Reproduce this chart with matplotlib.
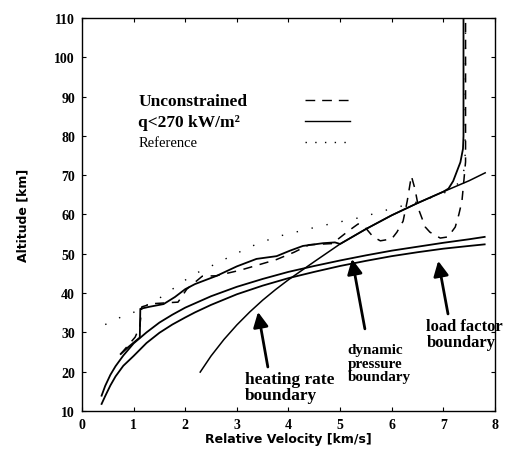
import matplotlib
matplotlib.use("Agg")
import matplotlib.pyplot as plt

# ---- data ----
# boundaries
dyn_v = [0.38, 0.45, 0.55, 0.65, 0.8, 1.0, 1.25, 1.5, 1.75, 2.0, 2.5, 3.0, 3.5, 4.0,
         4.5, 5.0, 5.5, 6.0, 6.5, 7.0, 7.5, 7.8]
dyn_h = [13.9, 16.4, 19.2, 21.4, 24.1, 27.2, 30.0, 32.5, 34.5, 36.3, 39.2, 41.6, 43.6, 45.4,
         46.9, 48.3, 49.6, 50.8, 51.8, 52.8, 53.7, 54.3]

load_v = [0.38, 0.45, 0.55, 0.65, 0.8, 1.0, 1.25, 1.5, 1.75, 2.0, 2.19, 2.5, 3.0, 3.5,
          4.0, 4.5, 5.0, 5.5, 6.0, 6.5, 7.0, 7.5, 7.8]
load_h = [11.8, 13.8, 16.5, 18.8, 21.5, 24.0, 27.3, 29.9, 32.0, 33.8, 35.1, 37.0, 39.7, 41.9,
          43.8, 45.4, 46.9, 48.2, 49.4, 50.4, 51.3, 52.0, 52.4]

heat_v = [2.29, 2.5, 2.75, 3.0, 3.25, 3.5, 3.75, 4.0, 4.5, 5.0, 5.5, 6.0, 6.5, 7.0, 7.5, 7.81]
heat_h = [19.9, 24.0, 28.2, 31.9, 35.2, 38.2, 40.9, 43.4, 48.0, 52.5, 56.3, 59.8, 62.9, 65.8, 68.6, 70.6]

# trajectories
q_v = [0.75, 0.9, 1.12, 1.13, 1.3, 1.58, 1.8, 2.0, 2.19, 2.61, 3.0, 3.38, 3.77,
       4.03, 4.28, 4.67, 4.9, 5.0, 5.5, 6.0, 6.5, 7.0, 7.1, 7.19, 7.33, 7.38, 7.39, 7.39]
q_h = [24.5, 26.3, 28.7, 36.0, 36.5, 37.2, 39.0, 41.0, 42.3, 44.4, 46.8, 48.7, 49.4,
       50.8, 52.0, 52.7, 52.9, 52.5, 56.3, 59.8, 62.9, 65.8, 66.6, 68.5, 73.3, 76.7, 80.0, 110.0]

unc_v = [0.75, 1.03, 1.12, 1.16, 1.36, 1.86, 2.03, 2.33, 2.6, 3.06, 3.76, 4.11, 4.4,
         4.85, 5.16, 5.35, 5.48, 5.64, 5.78, 6.0, 6.1, 6.22, 6.3, 6.38, 6.45, 6.53,
         6.65, 6.74, 6.94, 7.09, 7.23, 7.3, 7.36, 7.4, 7.43, 7.43]
unc_h = [24.5, 28.8, 31.5, 36.5, 37.3, 37.7, 41.0, 44.3, 44.4, 45.8, 48.5, 50.4, 52.3,
         52.6, 55.8, 57.6, 56.8, 54.3, 53.3, 53.8, 55.5, 58.3, 63.4, 69.8, 66.5, 61.0,
         56.8, 55.5, 54.0, 54.3, 56.8, 60.0, 63.4, 69.0, 73.4, 110.0]

ref_v = [0.45, 0.6, 0.8, 1.0, 1.5, 1.84, 2.0, 2.15, 2.34, 2.67, 2.85, 3.3, 3.76,
         4.6, 5.45, 5.83, 6.5, 7.0, 7.3, 7.42, 7.43]
ref_h = [32.0, 32.9, 34.2, 35.1, 38.7, 41.8, 43.3, 44.6, 45.9, 47.9, 49.2, 52.0, 54.3,
         57.0, 59.4, 60.9, 63.2, 65.3, 68.0, 72.0, 110.0]

x_ticks = [0, 1, 2, 3, 4, 5, 6, 7, 8]
y_ticks = [10, 20, 30, 40, 50, 60, 70, 80, 90, 100, 110]

# ---- figure ----
fig = plt.figure(figsize=(5.07, 4.52), dpi=100)
ax = fig.add_axes([0.1617, 0.0885, 0.8146, 0.8695])

lw = 1.3
ax.plot(dyn_v, dyn_h, color="black", lw=lw)
ax.plot(load_v, load_h, color="black", lw=lw)
ax.plot(heat_v, heat_h, color="black", lw=1.1)
ax.plot(q_v, q_h, color="black", lw=lw)
ax.plot(unc_v, unc_h, color="black", lw=1.1, linestyle=(0, (6, 5)))
ax.plot(ref_v, ref_h, color="black", lw=1.0, linestyle=(0, (1, 10)))

ax.set_xlim(0, 8)
ax.set_ylim(10, 110)
ax.set_xticks(x_ticks)
ax.set_yticks(y_ticks)
ax.tick_params(direction="in", top=True, right=True, length=3, width=0.8,
               labelsize=10, pad=5)
for lab in ax.get_xticklabels() + ax.get_yticklabels():
    lab.set_fontfamily("Liberation Serif")
    lab.set_fontweight("bold")
for s in ax.spines.values():
    s.set_linewidth(1.0)

ax.set_xlabel("Relative Velocity [km/s]", family=["Liberation Sans Narrow", "DejaVu Sans"],
              fontweight="bold", fontsize=9, labelpad=1)
ax.set_ylabel("Altitude [km]", family=["Liberation Sans Narrow", "DejaVu Sans"],
              fontweight="bold", fontsize=9, labelpad=18)

# legend-like labels
serif = "Liberation Serif"
ax.text(1.09, 88.9, "Unconstrained", family=serif, fontweight="bold", fontsize=12.5, va="center")
ax.text(1.09, 83.5, "q<270 kW/m²", family=serif, fontweight="bold", fontsize=12.5, va="center")
ax.text(1.09, 78.4, "Reference", family=serif, fontsize=10.5, va="center")
ax.plot([0.54, 0.65], [0.791, 0.791], transform=ax.transAxes, color="black", lw=1.0,
        linestyle=(0, (7, 5)))
ax.plot([0.54, 0.65], [0.738, 0.738], transform=ax.transAxes, color="black", lw=1.0)
ax.plot([0.54, 0.64], [0.684, 0.684], transform=ax.transAxes, color="black", lw=1.0,
        linestyle=(0, (1, 6)))

# annotations
arrow = dict(arrowstyle="-|>,head_length=0.9,head_width=0.45", color="black", lw=2.0,
             shrinkA=0, shrinkB=0)
ax.annotate("", xy=(3.41, 35.2), xytext=(3.6, 21.2), arrowprops=arrow)
ax.annotate("", xy=(5.23, 48.7), xytext=(5.48, 30.9), arrowprops=arrow)
ax.annotate("", xy=(6.9, 48.2), xytext=(7.09, 34.7), arrowprops=arrow)

ax.text(3.16, 16.0, "heating rate\nboundary", family=serif, fontweight="bold", fontsize=12.5,
        va="center", linespacing=1.0)
ax.text(5.14, 22.2, "dynamic\npressure\nboundary", family=serif, fontweight="bold", fontsize=10.9,
        va="center", linespacing=1.05)
ax.text(6.67, 29.6, "load factor\nboundary", family=serif, fontweight="bold", fontsize=12,
        va="center", linespacing=1.0, clip_on=False)

fig.savefig("out.png", dpi=100)
